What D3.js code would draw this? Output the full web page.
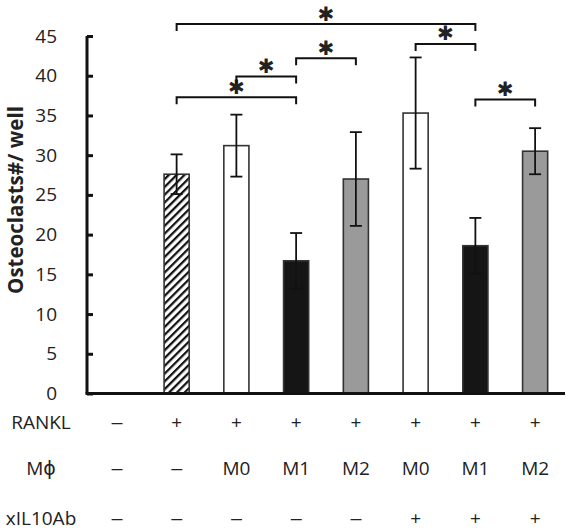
<!DOCTYPE html>
<html>
<head>
<meta charset="utf-8">
<script src="https://cdn.jsdelivr.net/npm/d3@7"></script>
<style>
  html, body { margin: 0; padding: 0; background: #fff; }
  svg { display: block; }
  text { font-family: "Open Sans", "DejaVu Sans", sans-serif; fill: #222; }
</style>
</head>
<body>
<script>
// ---- data ----
const categories = ["c1", "c2", "c3", "c4", "c5", "c6", "c7", "c8"];
const values = [0, 27.6, 31.2, 16.7, 27.0, 35.3, 18.6, 30.5];
const errors = [0, 2.5, 3.9, 3.5, 5.9, 7.0, 3.5, 2.9];
const fills = ["none", "hatch", "white", "black", "gray", "white", "black", "gray"];
const yTicks = [0, 5, 10, 15, 20, 25, 30, 35, 40, 45];
const yLabel = "Osteoclasts#/ well";
const rowLabels = ["RANKL", "M\u03d5", "xIL10Ab"];
const rankl = ["\u2013", "+", "+", "+", "+", "+", "+", "+"];
const mphi = ["\u2013", "\u2013", "M0", "M1", "M2", "M0", "M1", "M2"];
const xil10 = ["\u2013", "\u2013", "\u2013", "\u2013", "\u2013", "+", "+", "+"];
// significance brackets: from index, to index, level (y units), mark
const sigFrom = [1, 1, 2, 3, 5, 6];
const sigTo   = [6, 3, 3, 4, 6, 7];
const sigLevel = [46.5, 37.3, 39.9, 42.2, 44.0, 37.0];
const sigMark = "\u2731";

// ---- layout ----
const W = 566, H = 530;
const svg = d3.select("body").append("svg").attr("width", W).attr("height", H);

const x = d3.scaleBand().domain(categories).range([87, 565]).padding(0);
const y = d3.scaleLinear().domain([0, 45]).range([393.5, 36]);
const barW = x.bandwidth() * 0.42;
const cx = c => x(c) + x.bandwidth() / 2;

// hatch pattern
const defs = svg.append("defs");
const pat = defs.append("pattern").attr("id", "hatch")
  .attr("patternUnits", "userSpaceOnUse").attr("width", 5.5).attr("height", 5.5)
  .attr("patternTransform", "rotate(45)");
pat.append("rect").attr("width", 5.5).attr("height", 5.5).attr("fill", "#fff");
pat.append("line").attr("x1", 0).attr("y1", 0).attr("x2", 0).attr("y2", 5.5)
  .attr("stroke", "#111").attr("stroke-width", 4.5);

const fillOf = f => f === "hatch" ? "url(#hatch)" : f === "white" ? "#fff" : f === "black" ? "#151515" : f === "gray" ? "#9a9a9a" : "none";

// bars
const data = categories.map((c, i) => ({ c, v: values[i], e: errors[i], f: fills[i] }));
svg.append("g").selectAll("rect").data(data.filter(d => d.v > 0)).join("rect")
  .attr("x", d => cx(d.c) - barW / 2)
  .attr("y", d => y(d.v))
  .attr("width", barW)
  .attr("height", d => y(0) - y(d.v))
  .attr("fill", d => fillOf(d.f))
  .attr("stroke", "#333").attr("stroke-width", 1.6);

// error bars
const eg = svg.append("g").attr("stroke", "#111").attr("stroke-width", 1.8);
data.filter(d => d.v > 0).forEach(d => {
  const xc = cx(d.c);
  eg.append("line").attr("x1", xc).attr("x2", xc).attr("y1", y(d.v + d.e)).attr("y2", y(d.v - d.e));
  eg.append("line").attr("x1", xc - 6).attr("x2", xc + 6).attr("y1", y(d.v + d.e)).attr("y2", y(d.v + d.e));
  eg.append("line").attr("x1", xc - 6).attr("x2", xc + 6).attr("y1", y(d.v - d.e)).attr("y2", y(d.v - d.e));
});

// y axis
const yAxis = d3.axisLeft(y).tickValues(yTicks).tickSize(-6).tickPadding(30);
const ya = svg.append("g").attr("transform", "translate(87,0)").call(yAxis);
ya.select(".domain").attr("stroke", "#111").attr("stroke-width", 3).attr("d", `M0,${y(45)}V${y(0)}`);
ya.selectAll(".tick line").attr("stroke", "#111").attr("stroke-width", 3).attr("x1", 0).attr("x2", 6);
ya.selectAll(".tick text").attr("font-family", "'Open Sans', sans-serif").attr("font-size", 19).attr("fill", "#222");

// x axis line
const xa = svg.append("g").attr("transform", `translate(0,${y(0)})`).call(d3.axisBottom(x).tickSize(0).tickFormat(""));
xa.select(".domain").attr("stroke", "#111").attr("stroke-width", 3).attr("d", "M85.5,0H565");

// y label
svg.append("text").attr("transform", "translate(23,200) rotate(-90)")
  .attr("text-anchor", "middle").attr("font-weight", "bold").attr("font-size", 20.5)
  .text(yLabel);

// significance brackets
const bg = svg.append("g");
sigFrom.forEach((fi, k) => {
  const x1 = cx(categories[fi]), x2 = cx(categories[sigTo[k]]), yy = y(sigLevel[k]);
  bg.append("path").attr("d", `M${x1},${yy + 7}V${yy}H${x2}V${yy + 7}`)
    .attr("fill", "none").attr("stroke", "#111").attr("stroke-width", 2);
  bg.append("text").attr("x", (x1 + x2) / 2).attr("y", yy - 11)
    .attr("text-anchor", "middle").attr("dominant-baseline", "central")
    .attr("font-family", "'DejaVu Sans', sans-serif")
    .attr("font-size", 20).attr("fill", "#111").text(sigMark);
});

// table below
const rowsY = [422, 468, 518];
const rows = [rankl, mphi, xil10];
const tg = svg.append("g").attr("font-size", 19);
rowLabels.forEach((lab, r) => {
  tg.append("text").attr("x", 41).attr("y", rowsY[r]).attr("dy", "0.35em")
    .attr("text-anchor", "middle").text(lab);
  tg.selectAll(null).data(rows[r]).join("text")
    .attr("x", (d, i) => cx(categories[i])).attr("y", rowsY[r]).attr("dy", "0.35em")
    .attr("text-anchor", "middle")
    .each(function (d) { if (d === "\u2013") d3.select(this).attr("textLength", 13).attr("lengthAdjust", "spacingAndGlyphs"); })
    .text(d => d);
});
</script>
</body>
</html>
